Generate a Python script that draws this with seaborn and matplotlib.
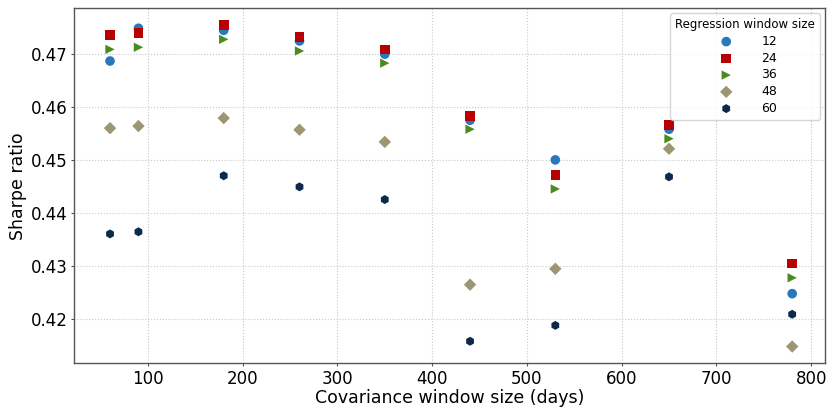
import numpy as np
import pandas as pd
import matplotlib
matplotlib.use("Agg")
import matplotlib.pyplot as plt
import seaborn as sns

cov_windows = [60, 90, 180, 260, 350, 440, 530, 650, 780]
reg_windows = ["12", "24", "36", "48", "60"]
sharpe_12 = [0.4687, 0.4749, 0.4745, 0.4725, 0.4700, 0.4575, 0.4500, 0.4558, 0.4247]
sharpe_24 = [0.4736, 0.4740, 0.4755, 0.4732, 0.4709, 0.4583, 0.4472, 0.4566, 0.4304]
sharpe_36 = [0.4709, 0.4713, 0.4728, 0.4706, 0.4683, 0.4558, 0.4445, 0.4540, 0.4277]
sharpe_48 = [0.4560, 0.4564, 0.4579, 0.4557, 0.4534, 0.4264, 0.4294, 0.4521, 0.4147]
sharpe_60 = [0.4360, 0.4364, 0.4470, 0.4449, 0.4425, 0.4157, 0.4187, 0.4468, 0.4208]

series = {"12": sharpe_12, "24": sharpe_24, "36": sharpe_36, "48": sharpe_48, "60": sharpe_60}
rows = []
for k in reg_windows:
    for x, y in zip(cov_windows, series[k]):
        rows.append({"cov": x, "sharpe": y, "reg": k})
df = pd.DataFrame(rows)

sns.set_style("white")
plt.rcParams['font.family'] = ['DejaVu Sans']
plt.rcParams.update({"text.color": "black", "axes.labelcolor": "black",
                     "xtick.color": "#555555", "ytick.color": "#555555",
                     "xtick.labelcolor": "black", "ytick.labelcolor": "black"})

palette = {"12": "#2878bd", "24": "#b80000", "36": "#4b8a1e", "48": "#9c9674", "60": "#0c2a4a"}
markers = {"12": "o", "24": "s", "36": ">", "48": "D", "60": "h"}
sizes = {"12": 48, "24": 48, "36": 45, "48": 40, "60": 42}

fig, ax = plt.subplots(figsize=(8.27, 4.07), dpi=100)
for k in reg_windows:
    sub = df[df["reg"] == k]
    sns.scatterplot(data=sub, x="cov", y="sharpe", color=palette[k], marker=markers[k],
                    s=sizes[k], edgecolor="none", ax=ax, label=k, zorder=3)

ax.set_xlim(22, 815)
ax.set_ylim(0.4115, 0.4787)
ax.set_xticks([100, 200, 300, 400, 500, 600, 700, 800])
ax.set_yticks([0.42, 0.43, 0.44, 0.45, 0.46, 0.47])
ax.grid(True, linestyle=":", color="#c8c8c8", linewidth=0.8)
ax.set_axisbelow(True)
for s in ax.spines.values():
    s.set_color("#555555")
    s.set_linewidth(1.0)
ax.tick_params(axis="both", labelsize=12, direction="out", length=2, pad=2.5,
               color="#555555", labelcolor="black", left=True, bottom=True)
ax.set_xlabel("Covariance window size (days)", fontsize=12.5, labelpad=1, color="black")
ax.set_ylabel("Sharpe ratio", fontsize=12.5, labelpad=3, color="black")
leg = ax.legend(title="Regression window size", fontsize=9, title_fontsize=8.5,
                loc="upper right", frameon=True, markerscale=1.0,
                labelspacing=0.3, borderaxespad=0.4, handletextpad=1.8)
leg.get_frame().set_edgecolor("#cccccc")
for t in leg.get_texts():
    t.set_color("black")
leg.get_title().set_color("black")

fig.subplots_adjust(left=0.0895, right=0.998, top=0.98, bottom=0.107)
fig.savefig("out.png", dpi=100)
